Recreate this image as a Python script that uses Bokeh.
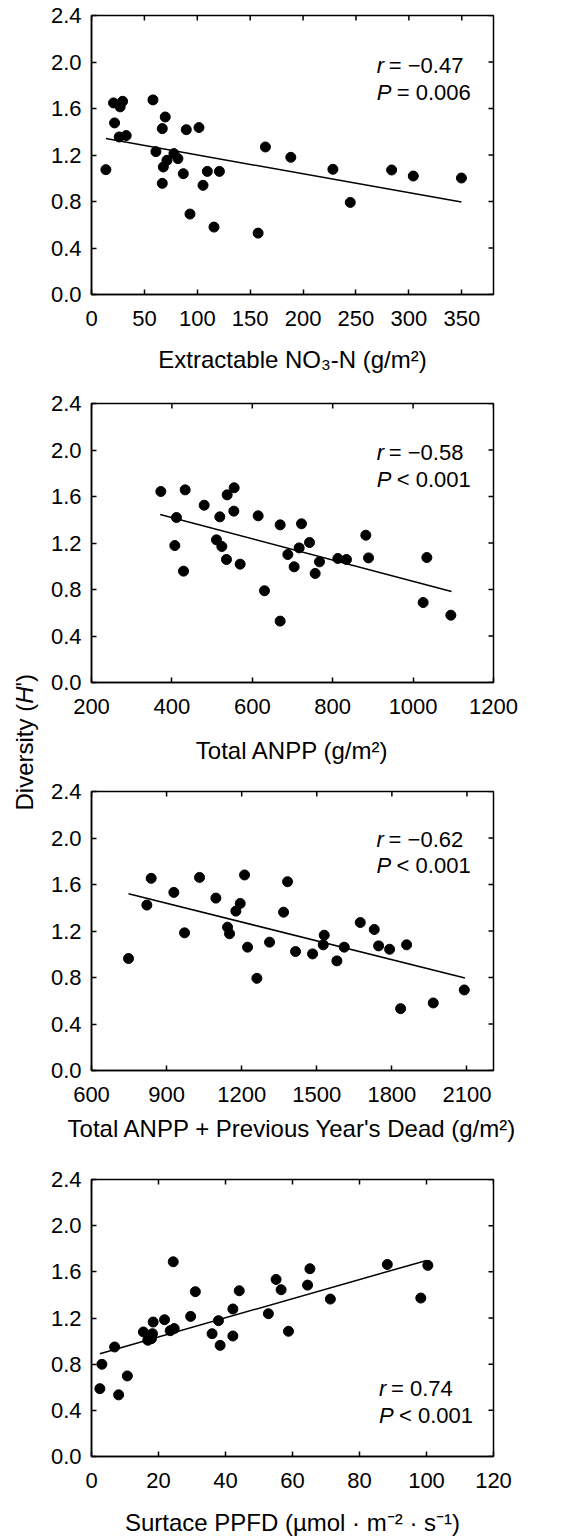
import math
from bokeh.plotting import figure
from bokeh.models import Range1d, FixedTicker, Label, PrintfTickFormatter
from bokeh.layouts import row, column
from bokeh.embed import file_html
from bokeh.resources import INLINE
from bokeh.core.properties import value

# ---------------- data ----------------
Y_TICKS = [0.0, 0.4, 0.8, 1.2, 1.6, 2.0, 2.4]

# Panel 1: Extractable NO3-N
no3_x = [13.6, 20.8, 21.8, 27.1, 29.4, 26.2, 32.8, 58.1, 60.9, 66.9, 69.7, 67.9, 66.9,
         71.3, 77.9, 81.7, 86.8, 89.6, 93.1, 101.6, 105.4, 109.5, 115.8, 120.9, 157.5,
         164.4, 188.4, 228.2, 244.6, 283.7, 304.2, 349.7]
no3_h = [1.074, 1.648, 1.476, 1.614, 1.662, 1.355, 1.367, 1.674, 1.229, 1.427, 1.527, 1.097,
         0.956, 1.154, 1.212, 1.169, 1.039, 1.418, 0.692, 1.436, 0.939, 1.059, 0.580, 1.059,
         0.528, 1.269, 1.180, 1.077, 0.792, 1.071, 1.019, 1.002]
no3_fit_x = [13.6, 349.7]
no3_fit_h = [1.341, 0.795]
no3_xticks = [0, 50, 100, 150, 200, 250, 300, 350]

# Panel 2: Total ANPP
anpp_x = [372.5, 411.4, 407.3, 433.0, 428.9, 480.3, 519.2, 510.9, 524.2, 537.5, 554.9, 554.1,
          535.8, 569.8, 614.6, 630.3, 669.3, 669.3, 688.4, 704.1, 716.6, 722.4, 742.3, 756.4,
          767.2, 812.8, 834.3, 882.4, 889.1, 1025.0, 1034.2, 1093.9]
anpp_h = [1.643, 1.419, 1.178, 1.657, 0.958, 1.525, 1.425, 1.227, 1.170, 1.614, 1.675, 1.474,
          1.058, 1.018, 1.434, 0.789, 1.356, 0.528, 1.101, 0.995, 1.158, 1.365, 1.204, 0.938,
          1.038, 1.067, 1.058, 1.267, 1.072, 0.688, 1.075, 0.579]
anpp_fit_x = [370.8, 1095.5]
anpp_fit_h = [1.445, 0.783]
anpp_xticks = [200, 400, 600, 800, 1000, 1200]

# Panel 3: Total ANPP + previous year's dead
tot_x = [747.9, 821.1, 838.4, 929.0, 971.7, 1031.6, 1096.9, 1143.5, 1151.5, 1176.8, 1194.1,
         1211.4, 1223.4, 1260.7, 1311.3, 1367.3, 1383.3, 1415.2, 1483.2, 1525.8, 1529.8,
         1580.4, 1609.7, 1673.7, 1729.6, 1747.0, 1790.9, 1834.9, 1858.8, 1965.4, 2089.3]
tot_h = [0.963, 1.423, 1.653, 1.532, 1.184, 1.661, 1.483, 1.233, 1.176, 1.371, 1.437, 1.682,
         1.061, 0.793, 1.104, 1.362, 1.624, 1.023, 1.003, 1.081, 1.164, 0.943, 1.061, 1.273,
         1.213, 1.072, 1.043, 0.532, 1.081, 0.581, 0.693]
tot_fit_x = [747.9, 2092.0]
tot_fit_h = [1.521, 0.796]
tot_xticks = [600, 900, 1200, 1500, 1800, 2100]

# Panel 4: Surface PPFD
ppfd_x = [2.5, 3.1, 6.9, 8.1, 10.7, 15.5, 16.8, 18.2, 17.9, 18.4, 21.8, 23.5, 24.7, 24.4,
          29.6, 31.0, 36.0, 37.9, 38.4, 42.2, 42.2, 44.1, 52.8, 55.1, 56.6, 58.8, 64.5, 65.2,
          71.3, 88.3, 98.3, 100.4]
ppfd_h = [0.588, 0.799, 0.949, 0.534, 0.698, 1.079, 1.007, 1.064, 1.021, 1.165, 1.185, 1.090,
          1.108, 1.687, 1.214, 1.428, 1.064, 1.177, 0.963, 1.278, 1.044, 1.436, 1.237, 1.534,
          1.445, 1.085, 1.485, 1.627, 1.364, 1.664, 1.373, 1.656]
ppfd_fit_x = [2.5, 100.0]
ppfd_fit_h = [0.891, 1.699]
ppfd_xticks = [0, 20, 40, 60, 80, 100, 120]

FONT = "Liberation Sans"
TICK_FS = "22px"
LAB_FS = "24px"
TICK_LEN = 5
YLAB_W = 42


def style_axis(ax, ticks, fmt, standoff):
    ax.ticker = FixedTicker(ticks=ticks)
    ax.formatter = PrintfTickFormatter(format=fmt)
    ax.major_tick_in = TICK_LEN
    ax.major_tick_out = 0
    ax.minor_tick_in = 0
    ax.minor_tick_out = 0
    ax.major_tick_line_width = 1.5
    ax.major_tick_line_color = "black"
    ax.axis_line_color = "black"
    ax.axis_line_width = 1.5
    ax.major_label_text_font = FONT
    ax.major_label_text_color = "black"
    ax.major_label_text_font_size = TICK_FS
    ax.major_label_standoff = standoff


def make_panel(xs, ys, fx, fy, xr, xticks, xlabel, label_standoff,
               r_txt, p_sym_txt, ann_x, ann_y1, ann_y2, height, bottom):
    left = 91 - YLAB_W
    p = figure(width=left + 402 + 43, height=height, x_range=Range1d(*xr),
               y_range=Range1d(0, 2.4), output_backend="svg", toolbar_location=None,
               min_border_left=left, min_border_right=43, min_border_top=15,
               min_border_bottom=bottom)
    p.grid.visible = False
    p.outline_line_color = "black"
    p.outline_line_width = 1.5
    p.background_fill_color = "white"
    p.border_fill_color = "white"

    style_axis(p.xaxis[0], xticks, "%d", 16)
    style_axis(p.yaxis[0], Y_TICKS, "%.1f", 10)
    p.xaxis[0].axis_label = xlabel
    p.xaxis[0].axis_label_text_font = FONT
    p.xaxis[0].axis_label_text_font_size = LAB_FS
    p.xaxis[0].axis_label_text_font_style = "normal"
    p.xaxis[0].axis_label_text_color = "black"
    p.xaxis[0].axis_label_standoff = label_standoff

    # inward ticks on the top and right edges of the frame
    p.ray(x=xticks, y=[2.4] * len(xticks), length=TICK_LEN, length_units="screen",
          angle=-math.pi / 2, line_color="black", line_width=1.5)
    p.ray(x=[xr[1]] * len(Y_TICKS), y=Y_TICKS, length=TICK_LEN, length_units="screen",
          angle=math.pi, line_color="black", line_width=1.5)

    p.line(fx, fy, line_color="black", line_width=1.5)
    p.scatter(xs, ys, marker="circle", size=10, fill_color="black", line_color="black")

    common = dict(text_font=FONT, text_font_size="22px", text_color="black",
                  text_baseline="middle", text_align="left")
    p.add_layout(Label(x=ann_x, y=ann_y1, text="r", text_font_style="italic", **common))
    p.add_layout(Label(x=ann_x, y=ann_y1, x_offset=12, text=r_txt, **common))
    p.add_layout(Label(x=ann_x, y=ann_y2, text="P", text_font_style="italic", **common))
    p.add_layout(Label(x=ann_x, y=ann_y2, x_offset=20, text=p_sym_txt, **common))
    return p


p1 = make_panel(no3_x, no3_h, no3_fit_x, no3_fit_h, (0, 380), no3_xticks,
                "Extractable NO\u2083-N (g/m\u00b2)", 17,
                "= \u22120.47", "= 0.006", 269.7, 1.970, 1.740, 388, 94)
p2 = make_panel(anpp_x, anpp_h, anpp_fit_x, anpp_fit_h, (200, 1200), anpp_xticks,
                "Total ANPP (g/m\u00b2)", 20,
                "= \u22120.58", "< 0.001", 909.7, 1.979, 1.750, 388, 94)
p3 = make_panel(tot_x, tot_h, tot_fit_x, tot_fit_h, (600, 2206), tot_xticks,
                "Total ANPP + Previous Year's Dead (g/m\u00b2)", 10,
                "= \u22120.62", "< 0.001", 1739.0, 1.990, 1.761, 388, 94)
p4 = make_panel(ppfd_x, ppfd_h, ppfd_fit_x, ppfd_fit_h, (0, 120), ppfd_xticks,
                "Surtace PPFD (\u00b5mol \u00b7 m\u207b\u00b2 \u00b7 s\u207b\u00b9)", 18,
                "= 0.74", "< 0.001", 85.8, 0.588, 0.359, 374, 80)

TOTAL = 388 * 3 + 374

# shared y-axis title
yl = figure(width=YLAB_W, height=TOTAL, x_range=Range1d(0, YLAB_W),
            y_range=Range1d(0, TOTAL), x_axis_type=None, y_axis_type=None,
            output_backend="svg", toolbar_location=None, min_border=0)
yl.grid.visible = False
yl.outline_line_color = None
y0 = TOTAL - 810
fs = 24
w1 = 4.444 * fs
w2 = 0.722 * fs
tcommon = dict(angle=math.pi / 2, text_font=value(FONT), text_font_size=value("24px"),
               text_color="black", text_baseline="middle", text_align="left")
yl.text(x=[24], y=[y0], text=["Diversity ("], **tcommon)
yl.text(x=[24], y=[y0 + w1], text=["H"], text_font_style="italic", **tcommon)
yl.text(x=[24], y=[y0 + w1 + w2], text=["')"], **tcommon)

layout = row(yl, column(p1, p2, p3, p4))
open("out.html", "w").write(file_html(layout, INLINE))
